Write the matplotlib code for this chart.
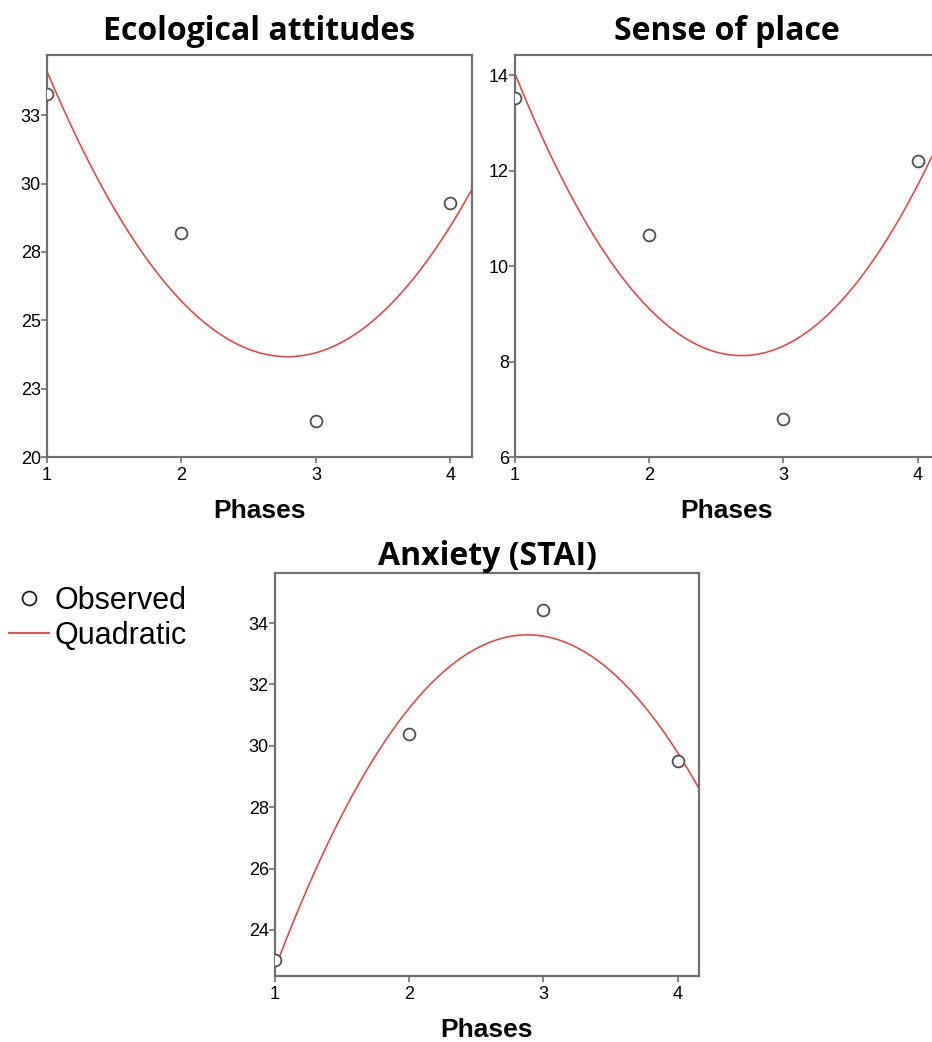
import numpy as np
import matplotlib
matplotlib.use("Agg")
import matplotlib.pyplot as plt
from matplotlib.lines import Line2D

# valori
phases = [1, 2, 3, 4]
eco_obs = [33.27, 28.19, 21.32, 29.28]
place_obs = [13.52, 10.64, 6.79, 12.2]
stai_obs = [23.03, 30.38, 34.42, 29.5]

titles = ["Ecological attitudes", "Sense of place", "Anxiety (STAI)"]
eco_ticks = [20, 22.5, 25, 27.5, 30, 32.5]
eco_ticklabels = ["20", "23", "25", "28", "30", "33"]
place_ticks = [6, 8, 10, 12, 14]
stai_ticks = [24, 26, 28, 30, 32, 34]

W, H = 932, 1042
fig = plt.figure(figsize=(W / 100, H / 100), dpi=100)

spine_col = "#707070"
red = "#f03a3a"
tick_font = {"family": "Liberation Sans", "size": 13}
title_font = {"family": "Open Sans", "weight": "bold", "size": 23}
label_font = {"family": "Liberation Sans", "weight": "bold", "size": 19}


def panel(rect, y, title, ylim, yticks, yticklabels=None, tpad=11):
    ax = fig.add_axes(rect)
    xmax = 4.16
    # curba patratica (fit pe punctele observate)
    coef = np.polyfit(phases, y, 2)
    xs = np.linspace(1, xmax, 200)
    ax.plot(xs, np.polyval(coef, xs), color=red, lw=1.1, zorder=2)
    ax.plot(phases, y, "o", mfc="white", mec="#505050", mew=1.3, ms=8.5,
            zorder=3)
    ax.set_xlim(1, xmax)
    ax.set_ylim(*ylim)
    ax.set_xticks(phases)
    ax.set_yticks(yticks)
    if yticklabels is not None:
        ax.set_yticklabels(yticklabels)
    for lab in ax.get_xticklabels() + ax.get_yticklabels():
        lab.set_fontfamily(tick_font["family"])
        lab.set_fontsize(tick_font["size"])
    ax.tick_params(direction="out", length=4, width=1.2, color=spine_col)
    ax.tick_params(axis="y", pad=0.5)
    ax.tick_params(axis="x", pad=3)
    for s in ax.spines.values():
        s.set_color(spine_col)
        s.set_linewidth(1.6)
    ax.set_title(title, fontdict=title_font, pad=tpad)
    ax.set_xlabel("Phases", fontdict=label_font, labelpad=11)
    return ax


ax1 = panel([47 / W, 1 - 457 / H, 425 / W, 402 / H], eco_obs, titles[0],
            (20, 34.7), eco_ticks, eco_ticklabels)
ax2 = panel([515 / W, 1 - 457 / H, 424 / W, 402 / H], place_obs, titles[1],
            (6, 14.42), place_ticks)
ax3 = panel([275 / W, 1 - 976 / H, 424 / W, 403 / H], stai_obs, titles[2],
            (22.5, 35.63), stai_ticks, tpad=5)

handles = [
    Line2D([], [], ls="none", marker="o", mfc="white", mec="#202020", mew=1.3, ms=10),
    Line2D([], [], color=red, lw=1.3),
]
fig.legend(handles, ["Observed", "Quadratic"], loc="upper left",
           bbox_to_anchor=(0.0, 1 - 577 / H), frameon=False,
           prop={"family": "Liberation Sans", "size": 22},
           handlelength=1.3, handletextpad=0.2, labelspacing=0.15,
           borderaxespad=0.0, borderpad=0.3)

fig.savefig("out.png", dpi=100)
